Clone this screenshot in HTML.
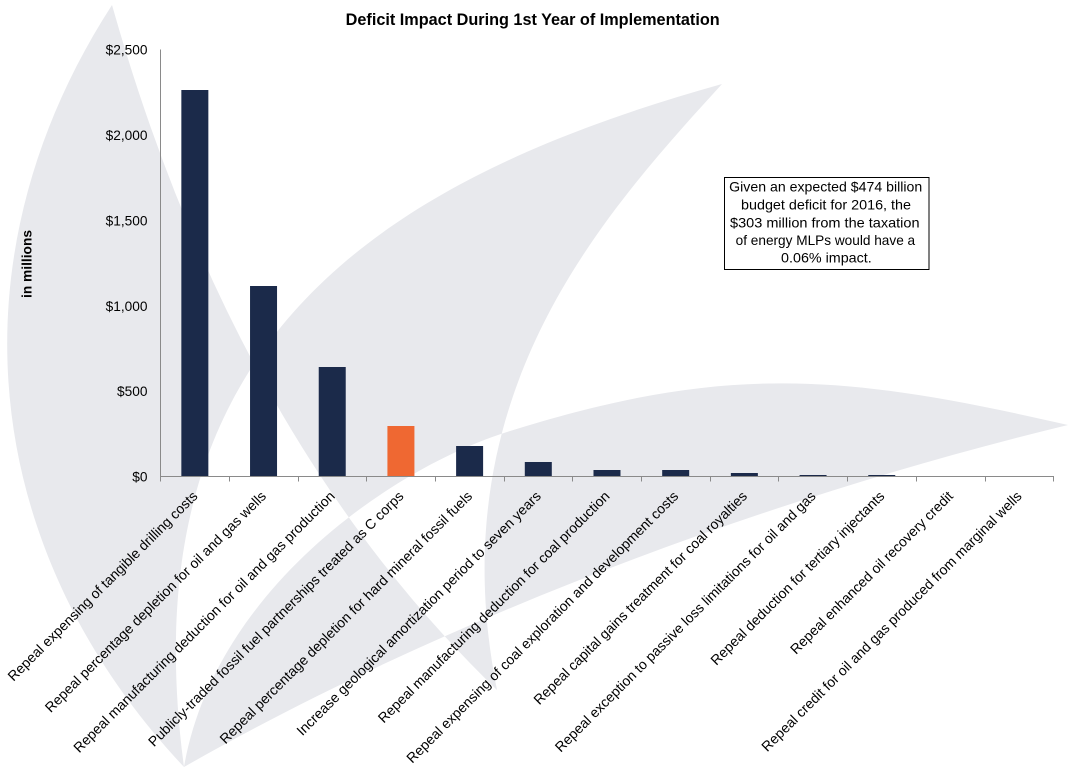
<!DOCTYPE html>
<html>
<head>
<meta charset="utf-8">
<style>
  html, body { margin: 0; padding: 0; background: #ffffff; }
  body { width: 1068px; height: 772px; overflow: hidden; }
  svg { display: block; }
  text { font-family: "Liberation Sans", Arial, sans-serif; fill: #000; }
</style>
</head>
<body>
<svg width="1068" height="772" viewBox="0 0 1068 772" xmlns="http://www.w3.org/2000/svg">
  <rect x="0" y="0" width="1068" height="772" fill="#ffffff"/>

  <!-- background sail watermark (even-odd) -->
  <path fill="#e8e9ed" fill-rule="evenodd" d="
    M112,5 C-51,257 -21.5,548.6 184,767 L497,690 Q234,436 112,5 Z
    M722,84 C365.7,183.5 128.1,350.8 184,767 L497,690 C438.2,396 600.7,217 722,84 Z
    M1068,425 C843.8,373.7 726.2,363 507,432 C392.6,468 214.6,589.7 184,767 C444.4,618.2 776.4,495.2 1068,425 Z"/>

  <!-- title -->
  <text x="532.7" y="25" text-anchor="middle" font-size="16.2" font-weight="bold" textLength="374" lengthAdjust="spacingAndGlyphs">Deficit Impact During 1st Year of Implementation</text>

  <!-- y axis title -->
  <text transform="translate(31.5,264) rotate(-90)" text-anchor="middle" font-size="13.5" font-weight="bold" textLength="68" lengthAdjust="spacingAndGlyphs">in millions</text>

  <!-- y tick labels -->
  <g font-size="13.7" text-anchor="end">
    <text x="147.5" y="54.5">$2,500</text>
    <text x="147.5" y="139.9">$2,000</text>
    <text x="147.5" y="225.3">$1,500</text>
    <text x="147.5" y="310.8">$1,000</text>
    <text x="147.5" y="396.2">$500</text>
    <text x="147.5" y="481.7">$0</text>
  </g>

  <!-- bars -->
  <g fill="#1b2a4a">
    <rect x="181.35" y="90" width="27" height="386.5"/>
    <rect x="250.04" y="286" width="27" height="190.5"/>
    <rect x="318.73" y="367" width="27" height="109.5"/>
    <rect x="456.11" y="446" width="27" height="30.5"/>
    <rect x="524.8" y="462" width="27" height="14.5"/>
    <rect x="593.49" y="470" width="27" height="6.5"/>
    <rect x="662.18" y="470" width="27" height="6.5"/>
    <rect x="730.87" y="473" width="27" height="3.5"/>
    <rect x="799.56" y="475" width="27" height="1.5"/>
    <rect x="868.25" y="475" width="27" height="1.5"/>
  </g>
  <rect x="387.42" y="426" width="27" height="50.5" fill="#ef6832"/>

  <!-- axes -->
  <g stroke="#8a8a8a" stroke-width="1" fill="none">
    <line x1="160.5" y1="49.5" x2="160.5" y2="477"/>
    <line x1="160" y1="476.5" x2="1054" y2="476.5"/>
    <line x1="160.5" y1="476.5" x2="160.5" y2="481.5"/>
    <line x1="229.5" y1="476.5" x2="229.5" y2="481.5"/>
    <line x1="298.5" y1="476.5" x2="298.5" y2="481.5"/>
    <line x1="366.5" y1="476.5" x2="366.5" y2="481.5"/>
    <line x1="435.5" y1="476.5" x2="435.5" y2="481.5"/>
    <line x1="504.5" y1="476.5" x2="504.5" y2="481.5"/>
    <line x1="572.5" y1="476.5" x2="572.5" y2="481.5"/>
    <line x1="641.5" y1="476.5" x2="641.5" y2="481.5"/>
    <line x1="710.5" y1="476.5" x2="710.5" y2="481.5"/>
    <line x1="778.5" y1="476.5" x2="778.5" y2="481.5"/>
    <line x1="847.5" y1="476.5" x2="847.5" y2="481.5"/>
    <line x1="916.5" y1="476.5" x2="916.5" y2="481.5"/>
    <line x1="985.5" y1="476.5" x2="985.5" y2="481.5"/>
    <line x1="1053.5" y1="476.5" x2="1053.5" y2="481.5"/>
  </g>

  <!-- category labels -->
  <g font-size="14" text-anchor="end">
    <text transform="translate(198.4,497) rotate(-45)">Repeal expensing of tangible drilling costs</text>
    <text transform="translate(267.0,497) rotate(-45)">Repeal percentage depletion for oil and gas wells</text>
    <text transform="translate(335.7,497) rotate(-45)">Repeal manufacturing deduction for oil and gas production</text>
    <text transform="translate(404.4,497) rotate(-45)">Publicly-traded fossil fuel partnerships treated as C corps</text>
    <text transform="translate(473.1,497) rotate(-45)">Repeal percentage depletion for hard mineral fossil fuels</text>
    <text transform="translate(541.8,497) rotate(-45)">Increase geological amortization period to seven years</text>
    <text transform="translate(610.5,497) rotate(-45)">Repeal manufacturing deduction for coal production</text>
    <text transform="translate(679.2,497) rotate(-45)">Repeal expensing of coal exploration and development costs</text>
    <text transform="translate(747.9,497) rotate(-45)">Repeal capital gains treatment for coal royalties</text>
    <text transform="translate(816.6,497) rotate(-45)">Repeal exception to passive loss limitations for oil and gas</text>
    <text transform="translate(885.3,497) rotate(-45)">Repeal deduction for tertiary injectants</text>
    <text transform="translate(953.9,497) rotate(-45)">Repeal enhanced oil recovery credit</text>
    <text transform="translate(1022.6,497) rotate(-45)">Repeal credit for oil and gas produced from marginal wells</text>
  </g>

  <!-- annotation box -->
  <rect x="724.5" y="177.5" width="204.5" height="92" fill="#ffffff" stroke="#000" stroke-width="1"/>
  <g font-size="14" text-anchor="middle">
    <text x="825.7" y="191.7" textLength="193" lengthAdjust="spacingAndGlyphs">Given an expected $474 billion</text>
    <text x="826" y="209.3" textLength="170" lengthAdjust="spacingAndGlyphs">budget deficit for 2016, the</text>
    <text x="824.8" y="227.3" textLength="189.5" lengthAdjust="spacingAndGlyphs">$303 million from the taxation</text>
    <text x="825.4" y="245" textLength="179.5" lengthAdjust="spacingAndGlyphs">of energy MLPs would have a</text>
    <text x="826.4" y="262.7" textLength="90.7" lengthAdjust="spacingAndGlyphs">0.06% impact.</text>
  </g>
</svg>
</body>
</html>
